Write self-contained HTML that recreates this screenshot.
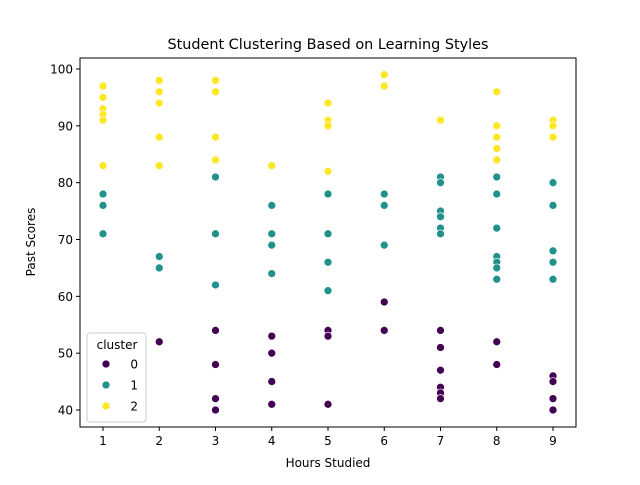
<!DOCTYPE html>
<html><head><meta charset="utf-8"><style>
body{margin:0;background:#fff;font-family:"Liberation Sans","DejaVu Sans",sans-serif}
svg text{font-family:"DejaVu Sans","Liberation Sans",sans-serif}
</style></head><body>
<svg id="chart" width="640" height="480" xmlns="http://www.w3.org/2000/svg">
<rect width="640" height="480" fill="#fff"/>
<text x="328" y="49" font-size="14.4" text-anchor="middle">Student Clustering Based on Learning Styles</text>
<g id="marks"></g>
<rect x="80" y="58" width="496" height="369" fill="none" stroke="#000" stroke-width="1"/>
<g id="xt"></g><g id="yt"></g>
<text x="328" y="467" font-size="12" text-anchor="middle">Hours Studied</text>
<text transform="translate(35,242) rotate(-90)" font-size="12" text-anchor="middle">Past Scores</text>
<g>
<rect x="87" y="333" width="59" height="89" rx="3" fill="#fff" fill-opacity="0.8" stroke="#ccc"/>
<text x="117" y="349" font-size="12" text-anchor="middle">cluster</text>
<g id="leg"></g>
</g>
</svg>
<script>
const clusters=[0,1,2];
const colors=["#440154","#21918c","#fde725"];
const hours=[1,2,3,4,5,6,7,8,9];
const xTicks=[1,2,3,4,5,6,7,8,9];
const yTicks=[40,50,60,70,80,90,100];
const scores0=[[],[52],[54,48,42,40],[53,50,45,41],[54,53,41],[59,54],[54,51,47,44,43,42],[52,48],[46,45,42,40]];
const scores1=[[78,76,71],[67,65],[81,71,62],[76,71,69,64],[78,71,66,61],[78,76,69],[81,80,75,74,72,71],[81,78,72,67,66,65,63],[80,76,68,66,63]];
const scores2=[[97,95,93,92,91,83],[98,96,94,88,83],[98,96,88,84],[83],[94,91,90,82],[99,97],[91],[96,90,88,86,84],[91,90,88]];
const X=v=>103+(v-1)*56.25;
const Y=v=>410-(v-40)*(341/60);
const NS="http://www.w3.org/2000/svg";
const mk=(t,a,p)=>{const e=document.createElementNS(NS,t);for(const k in a)e.setAttribute(k,a[k]);p.appendChild(e);return e;};
const g=document.getElementById('marks');
[scores0,scores1,scores2].forEach((ser,c)=>{ser.forEach((arr,i)=>{arr.forEach(v=>{
 const e=mk('circle',{cx:X(hours[i]),cy:Y(v),r:4,fill:colors[c],stroke:'#fff','stroke-width':0.7},g);
 
 
});});});
const xt=document.getElementById('xt');
xTicks.forEach(t=>{const x=X(t);
 const l=mk('line',{x1:x,x2:x,y1:427,y2:431,stroke:'#000'},xt);
 
 
 const s=mk('text',{x:x,y:445,'font-size':12,'text-anchor':'middle'},xt);s.textContent=t;
 
 
});
const yt=document.getElementById('yt');
yTicks.forEach(t=>{const y=Y(t);
 const l=mk('line',{x1:76,x2:80,y1:y,y2:y,stroke:'#000'},yt);
 
 
 const s=mk('text',{x:73,y:y+4.5,'font-size':12,'text-anchor':'end'},yt);s.textContent=t;
 
 
});
const leg=document.getElementById('leg');
clusters.forEach((c,i)=>{const y=364+i*21;
 const e=mk('circle',{cx:106,cy:y,r:4,fill:colors[i],stroke:'#fff','stroke-width':0.7},leg);
 
 
 const s=mk('text',{x:138,y:y+4.5,'font-size':12,'text-anchor':'end'},leg);s.textContent=c;
 
 
});
</script>
</body></html>
